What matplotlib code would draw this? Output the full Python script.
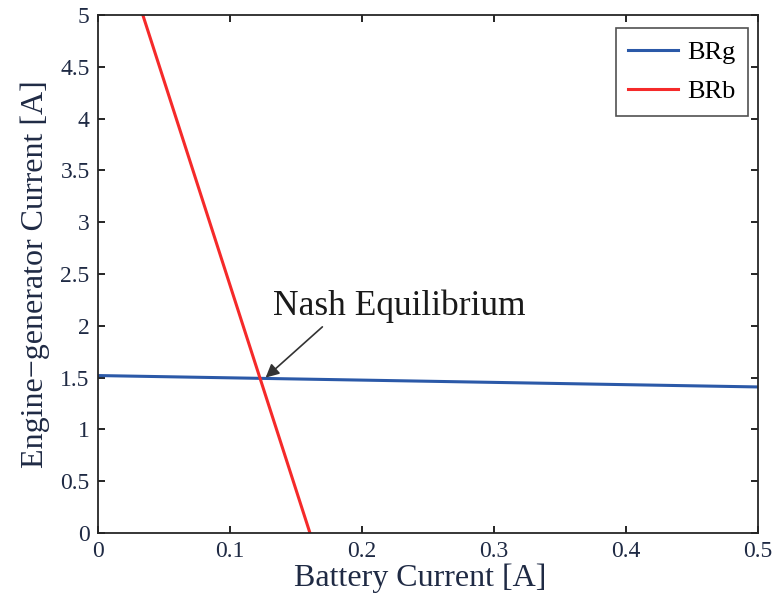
import numpy as np
import matplotlib.pyplot as plt

plt.rcParams['font.family'] = ['Liberation Serif', 'DejaVu Serif']

# best-response lines
brg_x = [0.0, 0.5]
brg_y = [1.52, 1.41]
brb_x = [0.034, 0.1606]
brb_y = [5.0, 0.0]
nash_point = (0.127, 1.50)
nash_label = 'Nash Equilibrium'

xticks = [0, 0.1, 0.2, 0.3, 0.4, 0.5]
xtick_labels = ['0', '0.1', '0.2', '0.3', '0.4', '0.5']
yticks = [0, 0.5, 1, 1.5, 2, 2.5, 3, 3.5, 4, 4.5, 5]
ytick_labels = ['0', '0.5', '1', '1.5', '2', '2.5', '3', '3.5', '4', '4.5', '5']

txt_col = '#1f2a44'

fig = plt.figure(figsize=(7.8, 6.02), dpi=100)
ax = fig.add_axes([0.1256, 0.1146, 0.8462, 0.8604])

ax.plot(brg_x, brg_y, color='#2b59a8', lw=2.2, label='BRg')
ax.plot(brb_x, brb_y, color='#f52a2a', lw=2.2, label='BRb')

# label and arrow for the equilibrium
ax.text(0.1326, 2.10, nash_label, fontsize=25.5, color='#1a1a1a', va='baseline')
ax.annotate('', xy=nash_point, xytext=(0.170, 1.99),
            arrowprops=dict(arrowstyle='-|>', color='#333333', lw=1.2,
                            mutation_scale=20, shrinkA=0, shrinkB=0))

ax.set_xlim(0, 0.5)
ax.set_ylim(0, 5)
ax.set_xticks(xticks)
ax.set_xticklabels(xtick_labels)
ax.set_yticks(yticks)
ax.set_yticklabels(ytick_labels)
ax.tick_params(direction='in', top=True, right=True, length=5, width=1.2,
               labelsize=17, labelcolor=txt_col, pad=6)
for s in ax.spines.values():
    s.set_linewidth(1.3)
    s.set_color('#262626')

ax.set_xlabel('Battery Current [A]', fontsize=23, color=txt_col)
ax.set_ylabel('Engine\u2212generator Current [A]', fontsize=23, color=txt_col)
ax.xaxis.set_label_coords(0.488, -0.058)
ax.yaxis.set_label_coords(-0.073, 0.5)

leg = ax.legend(loc='upper right', fontsize=19, frameon=True, fancybox=False,
                edgecolor='#262626', handlelength=1.86, handletextpad=0.36,
                borderpad=0.48, labelspacing=0.6, borderaxespad=0,
                bbox_to_anchor=(0.985, 0.975))
leg.get_frame().set_linewidth(1.2)

plt.savefig('out.png', dpi=100)
